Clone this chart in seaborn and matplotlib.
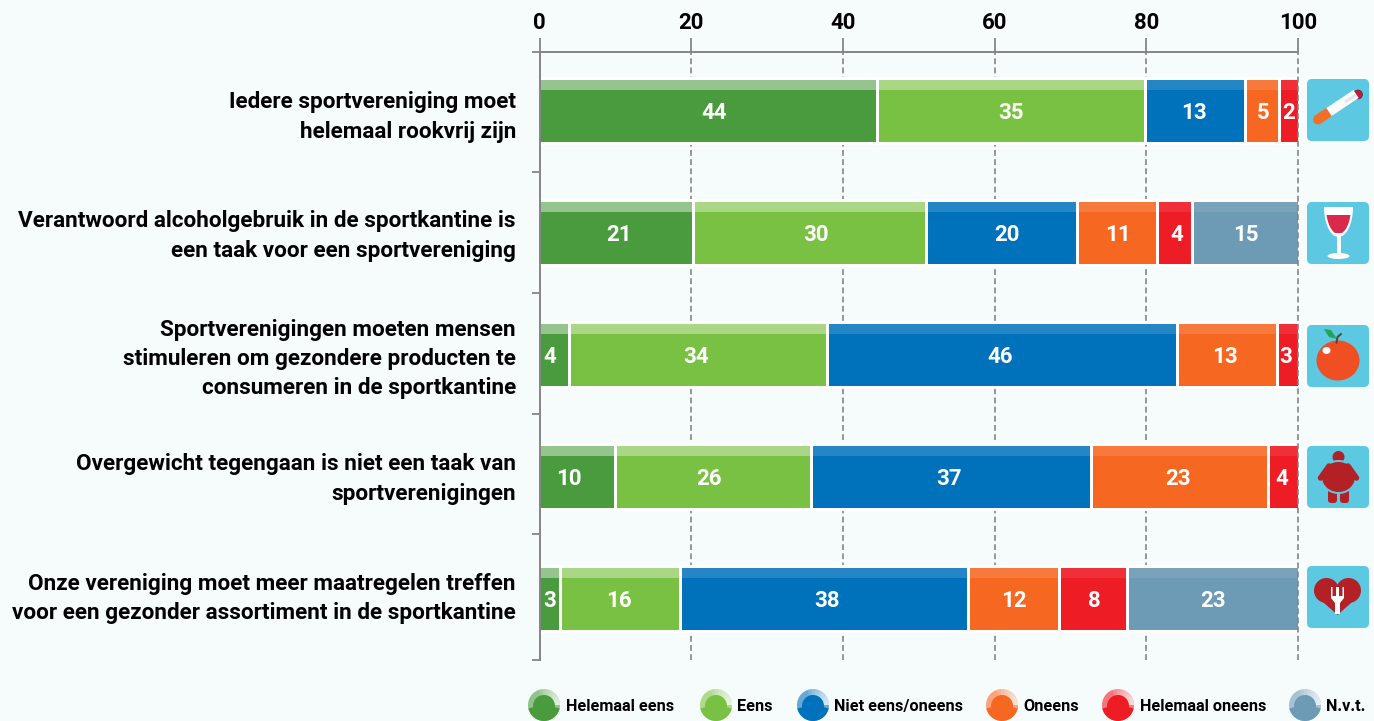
import numpy as np
import matplotlib
matplotlib.use("Agg")
import matplotlib.pyplot as plt
from matplotlib.patches import Circle, Ellipse, FancyBboxPatch, Polygon, Wedge
from matplotlib.transforms import ScaledTranslation
import seaborn as sns

statements = [
    "Iedere sportvereniging moet\nhelemaal rookvrij zijn",
    "Verantwoord alcoholgebruik in de sportkantine is\neen taak voor een sportvereniging",
    "Sportverenigingen moeten mensen\nstimuleren om gezondere producten te\nconsumeren in de sportkantine",
    "Overgewicht tegengaan is niet een taak van\nsportverenigingen",
    "Onze vereniging moet meer maatregelen treffen\nvoor een gezonder assortiment in de sportkantine",
]
series_names = ["Helemaal eens", "Eens", "Niet eens/oneens", "Oneens", "Helemaal oneens", "N.v.t."]
helemaal_eens = [44.5, 20.3, 3.9, 9.95, 2.7]
eens = [35.3, 30.7, 34.0, 25.85, 15.8]
niet_eens = [13.2, 19.9, 46.2, 36.9, 38.0]
oneens = [4.5, 10.5, 13.1, 23.3, 12.0]
helemaal_oneens = [2.5, 4.6, 2.8, 4.0, 9.0]
nvt = [0, 14.0, 0, 0, 22.5]
labels_he = [44, 21, 4, 10, 3]
labels_e = [35, 30, 34, 26, 16]
labels_ne = [13, 20, 46, 37, 38]
labels_o = [5, 11, 13, 23, 12]
labels_ho = [2, 4, 3, 4, 8]
labels_nvt = [None, 15, None, None, 23]
colors = ["#4a9b3d", "#79c143", "#0071bb", "#f66722", "#ee1c25", "#6d9ab5"]
x_ticks = [0, 20, 40, 60, 80, 100]

# styling only: gloss strength per colour, label nudges in pixels
gloss = [0.42, 0.36, 0.15, 0.12, 0.09, 0.09]
nudge = [[5, 2, -5, -9, -1], [-1, 5, -3, -5, -2], [-2, 4, -3, -3, 2],
         [0, 0, -3, -2, 0], [-1, 2, -2, -2, 0], [0, 0, 0, 0, 0]]
label_dy_px = [0, 3, 2, 4, 6.5]

BG = "#f6fcfc"
GREY = "#858585"
W, H = 1374, 721
sns.set_theme(style="white")
FONT = "Roboto"
plt.rcParams["font.family"] = FONT

fig = plt.figure(figsize=(W / 100, H / 100), dpi=100, facecolor=BG)
ax = fig.add_axes([539.5 / W, 1 - 660 / H, (1298 - 539.5) / W, (660 - 52) / H], facecolor="none")
unit_px = (1298 - 539.5) / 100

all_vals = [helemaal_eens, eens, niet_eens, oneens, helemaal_oneens, nvt]
all_labs = [labels_he, labels_e, labels_ne, labels_o, labels_ho, labels_nvt]
row_px = 122.0
bar_h = 65 / row_px
pos = np.arange(len(statements))
left = np.zeros(len(statements))
lefts = []
for vals, col in zip(all_vals, colors):
    sns.barplot(x=vals, y=statements, left=left, color=col, width=bar_h, saturation=1,
                orient="h", ax=ax, zorder=3, linewidth=0)
    lefts.append(left.copy())
    left = left + np.array(vals)

# glossy strip and white outlines
for vals, l, a in zip(all_vals, lefts, gloss):
    ax.barh(pos - 26 / row_px, vals, left=l, height=10 / row_px, color="white", alpha=a,
            linewidth=0, zorder=4)
eps = 3 / unit_px
for k, (vals, l) in enumerate(zip(all_vals, lefts)):
    for i, (v, s) in enumerate(zip(vals, l)):
        if v == 0:
            continue
        s0, v0 = s, v
        if s0 == 0:
            s0, v0 = -eps, v0 + eps
        if abs(s + v - 100) < 0.2:
            v0 = v0 + eps
        ax.barh(i, v0, left=s0, height=bar_h, facecolor="none", edgecolor="white",
                linewidth=2.16, zorder=5, clip_on=True)

for k, (vals, labs, l) in enumerate(zip(all_vals, all_labs, lefts)):
    for i, (v, t, s) in enumerate(zip(vals, labs, l)):
        if t is not None:
            ax.text(s + v / 2 + 0.1 + nudge[k][i] / unit_px, i, str(t), color="white", ha="center",
                    va="center_baseline", fontsize=16, fontweight="bold", zorder=7)

ax.set_xlim(0, 100)
ax.set_ylim(4.5, -0.483)
ax.set_xlabel("")
ax.set_ylabel("")
ax.xaxis.tick_top()
ax.set_xticks(x_ticks)
ax.set_xticklabels(x_ticks, fontsize=16, fontweight="bold", color="black")
ax.tick_params(axis="x", length=10, width=1.3, color=GREY, pad=3, top=True, bottom=False)
ax.tick_params(axis="y", which="major", length=0, pad=17, labelsize=16.2, labelcolor="black")
for t, dy in zip(ax.get_yticklabels(), label_dy_px):
    t.set_fontweight("bold")
    t.set_linespacing(1.42)
    t.set_transform(t.get_transform() + ScaledTranslation(0, dy / 100, fig.dpi_scale_trans))
ax.set_yticks([-0.483, 0.5, 1.49, 2.48, 3.47, 4.5], minor=True)
ax.tick_params(axis="y", which="minor", length=6, width=1.3, color=GREY, left=True)
ax.set_axisbelow(False)
for x in x_ticks[1:]:
    ax.axvline(x, color=GREY, lw=1.2, ls=(0, (3.5, 2)), zorder=6 if x == 100 else 1, clip_on=False)
for side in ["right", "bottom"]:
    ax.spines[side].set_visible(False)
for side in ["top", "left"]:
    ax.spines[side].set_color(GREY)
    ax.spines[side].set_linewidth(1.4)
    ax.spines[side].set_zorder(8)

# overlay in pixel coordinates for icons and legend
ov = fig.add_axes([0, 0, 1, 1], facecolor="none")
ov.set_xlim(0, W)
ov.set_ylim(H, 0)
ov.axis("off")

SKY = "#5dc8e1"
DARK = "#b32126"
for y0 in [79, 202, 325, 446, 566]:
    ov.add_patch(FancyBboxPatch((1310, y0 + 3), 56, 56, boxstyle="round,pad=3,rounding_size=5",
                                fc=SKY, ec="none"))

def px(v):
    return v * 0.72

# cigarette
ov.plot([1318, 1329], [119.5, 112], color="#f26f2a", lw=px(10), solid_capstyle="round")
ov.plot([1329, 1356], [112, 94], color="white", lw=px(9.5), solid_capstyle="butt")
ov.plot([1345, 1356], [102, 95], color="#e5e5e5", lw=px(3), solid_capstyle="butt")
ov.add_patch(Circle((1358, 94.5), 4.5, fc="#c8173f", ec="#3a2a2a", lw=0.4))

# wine glass
ys = np.linspace(207, 237, 30)
ws = 14.5 * np.sqrt(np.clip(1 - ((ys - 207) / 30) ** 2, 0, 1))
ov.add_patch(Polygon(np.r_[np.c_[1338.5 - ws, ys], np.c_[1338.5 + ws[::-1], ys[::-1]]], fc="white", ec="none"))
ys2 = np.linspace(215, 233, 20)
ws2 = 12.5 * np.sqrt(np.clip(1 - ((ys2 - 207) / 27) ** 2, 0, 1))
ov.add_patch(Polygon(np.r_[np.c_[1338.5 - ws2, ys2], np.c_[1338.5 + ws2[::-1], ys2[::-1]]], fc="#d92a4b", ec="none"))
ov.plot([1338.5, 1338.5], [235, 255], color="white", lw=px(4), solid_capstyle="butt")
ov.add_patch(Ellipse((1338.5, 256), 22, 6, fc="white", ec="none"))

# apple
ov.add_patch(Ellipse((1338, 360.5), 43, 40, fc="#f04e23", ec="none"))
ov.add_patch(Ellipse((1326.5, 350.5), 8, 7, fc="white", ec="none"))
ov.add_patch(Polygon([(1324, 329), (1331, 330), (1337, 339), (1329, 337)], fc="#22a455", ec="none"))
ov.plot([1336.5, 1337.5, 1341], [343, 337, 334], color="#5b4632", lw=px(2))

# figure
ov.add_patch(Circle((1338.5, 457), 6, fc=DARK, ec="none"))
for xl in [1328, 1340]:
    ov.add_patch(FancyBboxPatch((xl + 3, 488), 3, 12, boxstyle="round,pad=3,rounding_size=3", fc=DARK, ec="none"))
ov.add_patch(Ellipse((1338.5, 477), 37, 34, fc=SKY, ec="none"))
ov.add_patch(Ellipse((1338.5, 477), 33, 30, fc=DARK, ec="none"))
ov.plot([1329, 1320.5], [466, 478], color=DARK, lw=px(5.5), solid_capstyle="round")
ov.plot([1348, 1356.5], [466, 478], color=DARK, lw=px(5.5), solid_capstyle="round")

# heart with fork
for xh in [1326.5, 1348.5]:
    ov.add_patch(Circle((xh, 590.5), 12.5, fc=DARK, ec="none"))
ov.add_patch(Polygon([(1315, 595), (1337.5, 615), (1360, 595), (1349, 586), (1326, 586)], fc=DARK, ec="none"))
ov.add_patch(Polygon([(1331, 587), (1332.5, 587), (1332.5, 596), (1336, 596), (1336, 587), (1339, 587),
                      (1339, 596), (1342.5, 596), (1342.5, 587), (1344, 587), (1344, 598), (1340, 603),
                      (1340, 614), (1335, 614), (1335, 603), (1331, 598)], fc="white", ec="none"))

# legend
legend_cx = [544, 716, 813, 1002, 1118, 1305]
legend_tx = [566, 737, 834, 1023, 1140, 1326]
for cx, tx, name, col in zip(legend_cx, legend_tx, series_names, colors):
    cy, r = 705, 16
    ov.add_patch(Circle((cx, cy), r, fc="white", ec="none"))
    ov.add_patch(Circle((cx, cy), r, fc=col, alpha=0.6, ec="none"))
    for a0 in range(250, 360, 15):
        ov.add_patch(Wedge((cx, cy), r, a0, 360, fc="white", alpha=0.16, ec="none"))
    ov.add_patch(Circle((cx, cy + 1), 11, fc=col, ec="none"))
    ov.add_patch(Wedge((cx, cy), r, 12, 168, fc=col, ec="none"))
    ov.text(tx, cy, name, color="black", fontsize=11.7, fontweight="bold", ha="left", va="center_baseline")

fig.savefig("out.png", dpi=100, facecolor=BG)
